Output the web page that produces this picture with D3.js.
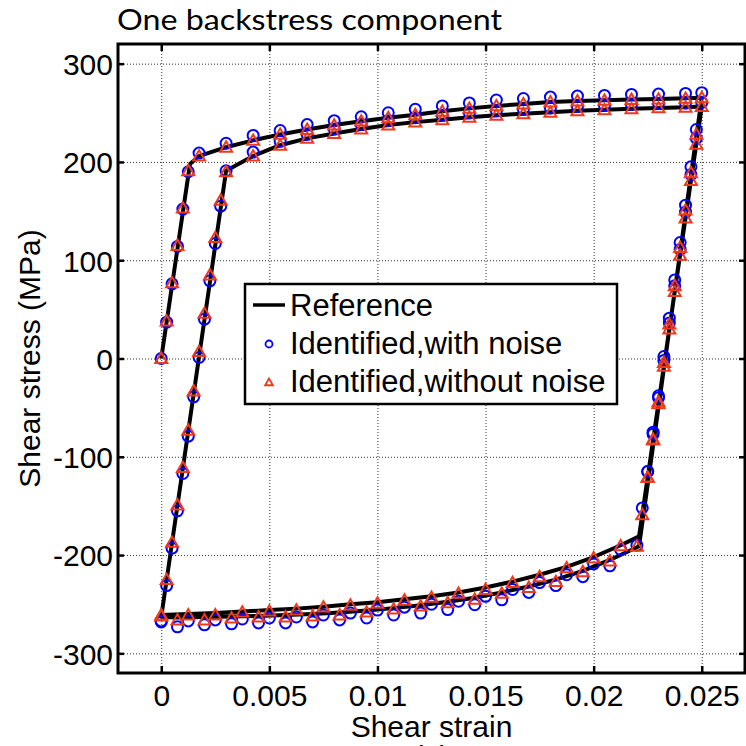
<!DOCTYPE html>
<html>
<head>
<meta charset="utf-8">
<script src="https://cdn.jsdelivr.net/npm/d3@7"></script>
<style>
    body { margin: 0; background: #fff; }
    svg { display: block; }
</style>
</head>
<body>
<div id="chart"></div>
<script>
// Axis ticks
const xTicks = [0, 0.005, 0.01, 0.015, 0.02, 0.025];
const xTickLabels = ["0", "0.005", "0.01", "0.015", "0.02", "0.025"];
const yTicks = [-300, -200, -100, 0, 100, 200, 300];
const yTickLabels = ["-300", "-200", "-100", "0", "100", "200", "300"];

// Reference curve (two strain cycles)
const refStrain = [
    0, 0.00133, 0.00175, 0.003, 0.00425, 0.0055, 0.00675, 0.008, 0.00925, 0.0105, 0.01175, 0.013, 0.01425, 0.0155, 0.01675, 0.018, 0.01925, 0.0205, 0.02175, 0.023, 0.02425, 0.025,
    0.0221, 0.02075, 0.0195, 0.01825, 0.017, 0.01575, 0.0145, 0.01325, 0.012, 0.01075, 0.0095, 0.00825, 0.007, 0.00575, 0.0045, 0.00325, 0.002, 0.00075, 0,
    0.003, 0.00425, 0.0055, 0.00675, 0.008, 0.00925, 0.0105, 0.01175, 0.013, 0.01425, 0.0155, 0.01675, 0.018, 0.01925, 0.0205, 0.02175, 0.023, 0.02425, 0.025,
    0.0221, 0.02125, 0.02, 0.01875, 0.0175, 0.01625, 0.015, 0.01375, 0.0125, 0.01125, 0.01, 0.00875, 0.0075, 0.00625, 0.005, 0.00375, 0.0025, 0.00125, 0
];
const refStress = [
    0, 198, 206, 215, 222, 228, 233, 237.5, 241.5, 245, 248, 251.5, 254.5, 257, 259, 261, 262, 262.7, 263.5, 264, 264.7, 265.3,
    -191, -205, -216, -225, -232, -238, -243.5, -247.5, -251, -254, -256.5, -258.5, -260, -261, -262, -262.5, -263, -263.5, -263,
    191, 206, 217, 224, 229, 233.5, 237.5, 240.5, 243, 245.5, 247.5, 249, 250.5, 252, 253, 254, 255, 255.7, 256.3,
    -181, -190, -202, -212, -220, -227, -233, -238, -242, -245, -248, -250, -252.5, -254.5, -256, -257.5, -259, -260, -261
];

// First loading
const load1Strain = [0, 0.00025, 0.0005, 0.00075, 0.001, 0.00125, 0.00175, 0.003, 0.00425, 0.0055, 0.00675, 0.008, 0.00925, 0.0105, 0.01175, 0.013, 0.01425, 0.0155, 0.01675, 0.018, 0.01925, 0.0205, 0.02175, 0.023, 0.02425, 0.025];
const load1Tri = [0, 38, 77, 115, 153, 191, 206, 215, 222, 228, 233, 237.5, 241.5, 245, 248, 251.5, 254.5, 257, 259, 261, 262, 262.7, 263.5, 264, 264.7, 265.3];
const load1Circ = [0, 37, 76, 114, 152, 190, 209, 219, 227, 232, 238, 242, 246, 250, 253.6, 257, 260, 263, 264.5, 266, 267, 267.7, 268.7, 269, 269.7, 270.5];

// First unloading
const unload1Strain = [0.02475, 0.0245, 0.02425, 0.024, 0.02375, 0.0235, 0.02325, 0.023, 0.02275, 0.0225, 0.02225, 0.022];
const unload1Tri = [228, 189, 151, 113, 74, 35, -4, -44, -82, -121, -159, -191];
const unload1Circ = [233, 195, 156, 118, 80, 41, 2, -38, -75, -115, -152, -190];

// First reverse branch
const revAStrain = [0.02075, 0.0195, 0.01825, 0.017, 0.01575, 0.0145, 0.01325, 0.012, 0.01075, 0.0095, 0.00825, 0.007, 0.00575, 0.0045, 0.00325, 0.002, 0.00075, 0];
const revATri = [-206, -217, -227, -233, -239, -245, -248.5, -252, -255, -258, -261, -262, -263, -263, -264, -266, -266, -262];
const revACirc = [-211, -222, -231, -238, -245.5, -250.5, -255.5, -259, -261, -264, -266, -268, -269, -269, -270, -271, -273, -267];

// Second loading
const load2Strain = [0.00025, 0.0005, 0.00075, 0.001, 0.00125, 0.0015, 0.00175, 0.002, 0.00225, 0.0025, 0.00275, 0.003, 0.00425, 0.0055, 0.00675, 0.008, 0.00925, 0.0105, 0.01175, 0.013, 0.01425, 0.0155, 0.01675, 0.018, 0.01925, 0.0205, 0.02175, 0.023, 0.02425, 0.025];
const load2Tri = [-225, -187, -149, -111, -73, -33, 7, 46, 85, 123, 161, 190, 206, 217, 224, 229, 233.5, 237.5, 240.5, 243, 245.5, 247.5, 249, 250.5, 252, 253, 254, 255, 255.7, 256.3];
const load2Circ = [-231, -193, -155, -117, -79, -39, 1, 40, 79, 117, 155, 191, 210, 221, 228, 233.5, 238, 242, 245, 247.5, 250, 252, 253.5, 255, 256.5, 257.5, 258.5, 259.5, 260, 260.5];

// Second unloading
const unload2Strain = [0.02475, 0.0245, 0.02425, 0.024, 0.02375, 0.0235, 0.02325, 0.023, 0.02275, 0.0225];
const unload2Tri = [218, 181, 143, 105, 68, 30, -8, -46, -83, -121];
const unload2Circ = [224, 187, 149, 111, 74, 36, -2, -40, -77, -115];

// Second reverse branch
const revBStrain = [0.02125, 0.02, 0.01875, 0.0175, 0.01625, 0.015, 0.01375, 0.0125, 0.01125, 0.01, 0.00875, 0.0075, 0.00625, 0.005, 0.00375, 0.0025, 0.00125, 0];
const revBTri = [-190.6, -203, -213, -222, -228, -235, -239, -243, -246, -249, -251, -253, -256, -257, -258, -261, -261, -261];
const revBCirc = [-194.5, -209, -220, -228, -235, -242, -247, -250, -253, -256, -259, -261, -263, -264, -265, -266, -267, -268];

const width = 746, height = 746;
const plotLeft = 118, plotRight = 745, plotTop = 44, plotBottom = 673;
const axisFont = "'Liberation Sans', Arial, sans-serif";
const triColor = "#ee3a1c";
const circColor = "#0000ff";

const x = d3.scaleLinear().domain([-0.002, 0.027]).range([plotLeft, plotRight]);
const y = d3.scaleLinear().domain([-320, 320]).range([plotBottom, plotTop]);

const svg = d3.select("#chart").append("svg")
    .attr("width", width)
    .attr("height", height);
svg.append("rect").attr("width", width).attr("height", height).attr("fill", "white");

//Grid
svg.append("g")
    .attr("transform", "translate(0," + plotBottom + ")")
    .call(d3.axisBottom(x).tickValues(xTicks).tickSize(-(plotBottom - plotTop)).tickFormat(""))
    .call(g => g.select(".domain").remove())
    .selectAll("line").attr("stroke", "#333").attr("stroke-width", 1).attr("stroke-dasharray", "1,2");
svg.append("g")
    .attr("transform", "translate(" + plotLeft + ",0)")
    .call(d3.axisLeft(y).tickValues(yTicks).tickSize(-(plotRight - plotLeft)).tickFormat(""))
    .call(g => g.select(".domain").remove())
    .selectAll("line").attr("stroke", "#333").attr("stroke-width", 1).attr("stroke-dasharray", "1,2");

//Axes with inward ticks
let xAxis = svg.append("g")
    .attr("transform", "translate(0," + plotBottom + ")")
    .call(d3.axisBottom(x).tickValues(xTicks).tickSize(-7).tickPadding(12).tickFormat((d, i) => xTickLabels[i]));
let yAxis = svg.append("g")
    .attr("transform", "translate(" + plotLeft + ",0)")
    .call(d3.axisLeft(y).tickValues(yTicks).tickSize(-6).tickPadding(5).tickFormat((d, i) => yTickLabels[i]));
let xTop = svg.append("g")
    .attr("transform", "translate(0," + plotTop + ")")
    .call(d3.axisTop(x).tickValues(xTicks).tickSize(-7).tickFormat(""));
let yRight = svg.append("g")
    .attr("transform", "translate(" + plotRight + ",0)")
    .call(d3.axisRight(y).tickValues(yTicks).tickSize(-6).tickFormat(""));
[xAxis, yAxis, xTop, yRight].forEach(g => {
    g.select(".domain").remove();
    g.selectAll("line").attr("stroke", "black").attr("stroke-width", 2.5);
    g.selectAll("text").attr("font-family", axisFont).attr("font-size", 30).attr("fill", "black");
});
yAxis.selectAll("text").attr("dy", "0.36em");

//Box
svg.append("rect")
    .attr("x", plotLeft).attr("y", plotTop)
    .attr("width", plotRight - plotLeft).attr("height", plotBottom - plotTop)
    .attr("fill", "none").attr("stroke", "black").attr("stroke-width", 3);

//Reference curve
const line = d3.line().x(d => x(d[0])).y(d => y(d[1]));
svg.append("path")
    .datum(d3.zip(refStrain, refStress))
    .attr("d", line)
    .attr("fill", "none")
    .attr("stroke", "black")
    .attr("stroke-width", 4)
    .attr("stroke-linejoin", "round");

//Identified, with noise
const circSets = [[load1Strain, load1Circ], [unload1Strain, unload1Circ], [revAStrain, revACirc], [load2Strain, load2Circ], [unload2Strain, unload2Circ], [revBStrain, revBCirc]];
const circPts = [].concat(...circSets.map(s => d3.zip(s[0], s[1])));
svg.append("g").selectAll("circle").data(circPts).enter().append("circle")
    .attr("cx", d => x(d[0])).attr("cy", d => y(d[1])).attr("r", 5.5)
    .attr("fill", "none").attr("stroke", circColor).attr("stroke-width", 2);

//Identified, without noise
const triSets = [[load1Strain, load1Tri], [unload1Strain, unload1Tri], [revAStrain, revATri], [load2Strain, load2Tri], [unload2Strain, unload2Tri], [revBStrain, revBTri]];
const triPts = [].concat(...triSets.map(s => d3.zip(s[0], s[1])));
const tri = d3.symbol().type(d3.symbolTriangle).size(62);
svg.append("g").selectAll("path").data(triPts).enter().append("path")
    .attr("d", tri)
    .attr("transform", d => "translate(" + x(d[0]) + "," + (y(d[1]) + 1) + ")")
    .attr("fill", "none").attr("stroke", triColor).attr("stroke-width", 2);

//Legend
const legend = svg.append("g");
legend.append("rect")
    .attr("x", 245).attr("y", 284).attr("width", 372).attr("height", 120)
    .attr("fill", "white").attr("stroke", "black").attr("stroke-width", 2.5);
legend.append("line")
    .attr("x1", 253).attr("x2", 285).attr("y1", 305).attr("y2", 305)
    .attr("stroke", "black").attr("stroke-width", 3.5);
legend.append("circle")
    .attr("cx", 269).attr("cy", 344).attr("r", 3.5)
    .attr("fill", "none").attr("stroke", circColor).attr("stroke-width", 1.8);
legend.append("path")
    .attr("d", d3.symbol().type(d3.symbolTriangle).size(26))
    .attr("transform", "translate(269,383)")
    .attr("fill", "none").attr("stroke", triColor).attr("stroke-width", 1.8);
const legendLabels = ["Reference", "Identified,with noise", "Identified,without noise"];
legend.selectAll("text").data(legendLabels).enter().append("text")
    .attr("x", 290).attr("y", (d, i) => 316 + i * 38)
    .attr("font-family", axisFont).attr("font-size", 31)
    .text(d => d);

//Title and axis labels
svg.append("text")
    .attr("x", 117).attr("y", 30)
    .attr("font-family", "Lato, 'Open Sans', sans-serif").attr("font-size", 29)
    .attr("textLength", 385).attr("lengthAdjust", "spacingAndGlyphs")
    .text("One backstress component");
svg.append("text")
    .attr("x", (plotLeft + plotRight) / 2).attr("y", 737)
    .attr("text-anchor", "middle")
    .attr("font-family", axisFont).attr("font-size", 30)
    .text("Shear strain");
svg.append("text")
    .attr("transform", "translate(40," + ((plotTop + plotBottom) / 2) + ")rotate(-90)")
    .attr("text-anchor", "middle")
    .attr("font-family", axisFont).attr("font-size", 30)
    .text("Shear stress (MPa)");
svg.append("text")
    .attr("x", (plotLeft + plotRight) / 2).attr("y", 767)
    .attr("text-anchor", "middle")
    .attr("font-family", axisFont).attr("font-size", 30)
    .text("(a)");
</script>
</body>
</html>
